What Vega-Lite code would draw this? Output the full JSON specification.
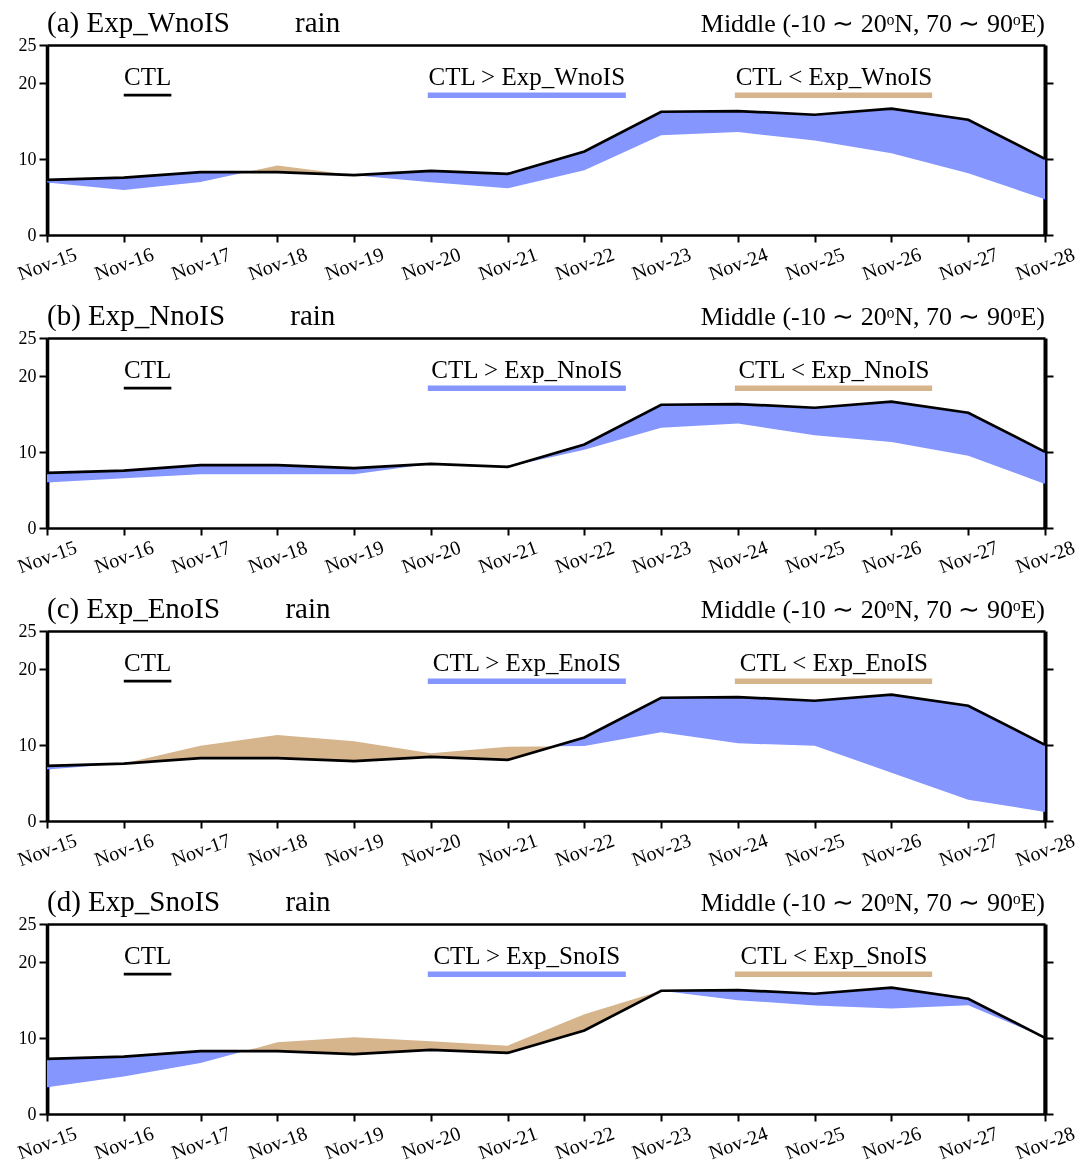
{
  "$schema": "https://vega.github.io/schema/vega-lite/v6.json",
  "padding": {"left": 14, "top": 8, "right": 6, "bottom": 0},
  "background": "white",
  "config": {
    "font": "Liberation Serif",
    "view": {"stroke": null},
    "axis": {"labelFont": "Liberation Serif", "labelFontSize": 19, "labelColor": "black", "domainColor": "black", "tickColor": "black", "grid": false, "title": null, "zindex": 2},
    "text": {"color": "black", "font": "Liberation Serif"}
  },
  "data": {"values": [
    {"panel": "a", "day": 15, "CTL": 7.25, "Exp": 6.9},
    {"panel": "a", "day": 16, "CTL": 7.56, "Exp": 5.93},
    {"panel": "a", "day": 17, "CTL": 8.26, "Exp": 6.99},
    {"panel": "a", "day": 18, "CTL": 8.26, "Exp": 9.14},
    {"panel": "a", "day": 19, "CTL": 7.87, "Exp": 7.87},
    {"panel": "a", "day": 20, "CTL": 8.44, "Exp": 6.95},
    {"panel": "a", "day": 21, "CTL": 8.04, "Exp": 6.15},
    {"panel": "a", "day": 22, "CTL": 10.99, "Exp": 8.53},
    {"panel": "a", "day": 23, "CTL": 16.22, "Exp": 13.14},
    {"panel": "a", "day": 24, "CTL": 16.31, "Exp": 13.54},
    {"panel": "a", "day": 25, "CTL": 15.82, "Exp": 12.44},
    {"panel": "a", "day": 26, "CTL": 16.62, "Exp": 10.77},
    {"panel": "a", "day": 27, "CTL": 15.16, "Exp": 8.13},
    {"panel": "a", "day": 28, "CTL": 10.02, "Exp": 4.7},
    {"panel": "b", "day": 15, "CTL": 7.25, "Exp": 6.0},
    {"panel": "b", "day": 16, "CTL": 7.56, "Exp": 6.54},
    {"panel": "b", "day": 17, "CTL": 8.26, "Exp": 7.07},
    {"panel": "b", "day": 18, "CTL": 8.26, "Exp": 7.07},
    {"panel": "b", "day": 19, "CTL": 7.87, "Exp": 7.07},
    {"panel": "b", "day": 20, "CTL": 8.44, "Exp": 8.44},
    {"panel": "b", "day": 21, "CTL": 8.04, "Exp": 8.04},
    {"panel": "b", "day": 22, "CTL": 10.99, "Exp": 10.3},
    {"panel": "b", "day": 23, "CTL": 16.22, "Exp": 13.18},
    {"panel": "b", "day": 24, "CTL": 16.31, "Exp": 13.75},
    {"panel": "b", "day": 25, "CTL": 15.82, "Exp": 12.2},
    {"panel": "b", "day": 26, "CTL": 16.62, "Exp": 11.32},
    {"panel": "b", "day": 27, "CTL": 15.16, "Exp": 9.5},
    {"panel": "b", "day": 28, "CTL": 10.02, "Exp": 5.8},
    {"panel": "c", "day": 15, "CTL": 7.25, "Exp": 6.76},
    {"panel": "c", "day": 16, "CTL": 7.56, "Exp": 7.56},
    {"panel": "c", "day": 17, "CTL": 8.26, "Exp": 9.91},
    {"panel": "c", "day": 18, "CTL": 8.26, "Exp": 11.33},
    {"panel": "c", "day": 19, "CTL": 7.87, "Exp": 10.49},
    {"panel": "c", "day": 20, "CTL": 8.44, "Exp": 8.93},
    {"panel": "c", "day": 21, "CTL": 8.04, "Exp": 9.78},
    {"panel": "c", "day": 22, "CTL": 10.99, "Exp": 9.87},
    {"panel": "c", "day": 23, "CTL": 16.22, "Exp": 11.69},
    {"panel": "c", "day": 24, "CTL": 16.31, "Exp": 10.22},
    {"panel": "c", "day": 25, "CTL": 15.82, "Exp": 9.91},
    {"panel": "c", "day": 26, "CTL": 16.62, "Exp": 6.36},
    {"panel": "c", "day": 27, "CTL": 15.16, "Exp": 2.8},
    {"panel": "c", "day": 28, "CTL": 10.02, "Exp": 1.2},
    {"panel": "d", "day": 15, "CTL": 7.25, "Exp": 3.52},
    {"panel": "d", "day": 16, "CTL": 7.56, "Exp": 4.93},
    {"panel": "d", "day": 17, "CTL": 8.26, "Exp": 6.7},
    {"panel": "d", "day": 18, "CTL": 8.26, "Exp": 9.43},
    {"panel": "d", "day": 19, "CTL": 7.87, "Exp": 10.09},
    {"panel": "d", "day": 20, "CTL": 8.44, "Exp": 9.56},
    {"panel": "d", "day": 21, "CTL": 8.04, "Exp": 8.99},
    {"panel": "d", "day": 22, "CTL": 10.99, "Exp": 13.13},
    {"panel": "d", "day": 23, "CTL": 16.22, "Exp": 16.22},
    {"panel": "d", "day": 24, "CTL": 16.31, "Exp": 14.98},
    {"panel": "d", "day": 25, "CTL": 15.82, "Exp": 14.27},
    {"panel": "d", "day": 26, "CTL": 16.62, "Exp": 13.88},
    {"panel": "d", "day": 27, "CTL": 15.16, "Exp": 14.32},
    {"panel": "d", "day": 28, "CTL": 10.02, "Exp": 10.02},
    {"panel": "a", "title": "(a) Exp_WnoIS\u00a0\u00a0\u00a0\u00a0\u00a0\u00a0\u00a0\u00a0\u00a0rain", "gt": "CTL > Exp_WnoIS", "lt": "CTL < Exp_WnoIS"},
    {"panel": "b", "title": "(b) Exp_NnoIS\u00a0\u00a0\u00a0\u00a0\u00a0\u00a0\u00a0\u00a0\u00a0rain", "gt": "CTL > Exp_NnoIS", "lt": "CTL < Exp_NnoIS"},
    {"panel": "c", "title": "(c) Exp_EnoIS\u00a0\u00a0\u00a0\u00a0\u00a0\u00a0\u00a0\u00a0\u00a0rain", "gt": "CTL > Exp_EnoIS", "lt": "CTL < Exp_EnoIS"},
    {"panel": "d", "title": "(d) Exp_SnoIS\u00a0\u00a0\u00a0\u00a0\u00a0\u00a0\u00a0\u00a0\u00a0rain", "gt": "CTL > Exp_SnoIS", "lt": "CTL < Exp_SnoIS"}
  ]},
  "facet": {"row": {"field": "panel", "type": "nominal", "header": {"title": null, "labels": false}}},
  "spacing": {"row": 103},
  "bounds": "flush",
  "resolve": {"axis": {"x": "independent"}},
  "spec": {
    "width": 998,
    "height": 190,
    "resolve": {"axis": {"y": "independent", "x": "independent"}},
    "layer": [
      {
        "transform": [{"filter": "isValid(datum.day)"}],
        "mark": {"type": "area", "color": "#D6B48C"},
        "encoding": {
          "x": {"field": "day", "type": "quantitative", "scale": {"domain": [15, 28], "nice": false, "zero": false},
            "axis": {"orient": "bottom", "zindex": 2, "values": [15,16,17,18,19,20,21,22,23,24,25,26,27,28], "labelExpr": "'Nov-' + datum.value", "labelAngle": -20, "labelAlign": "center", "labelBaseline": "middle", "labelPadding": 22, "tickSize": 7, "tickWidth": 2, "domainWidth": 2.5, "labelFlush": false, "labelOverlap": false, "labelFontSize": 20, "title": null}},
          "y": {"field": "CTL", "type": "quantitative", "scale": {"domain": [0, 25], "nice": false},
            "axis": {"orient": "left", "zindex": 2, "values": [0, 10, 20, 25], "tickSize": 8, "tickWidth": 2, "domainWidth": 3.5, "labelPadding": 3, "labelFontSize": 18, "title": null}},
          "y2": {"field": "Exp"}
        }
      },
      {
        "transform": [{"filter": "isValid(datum.day)"}],
        "mark": {"type": "area", "color": "#0000FF", "blend": "color-dodge"},
        "encoding": {
          "x": {"field": "day", "type": "quantitative", "axis": null},
          "y": {"field": "CTL", "type": "quantitative", "axis": null}
        }
      },
      {
        "transform": [{"filter": "isValid(datum.day)"}],
        "mark": {"type": "area", "color": "#56B6FF", "blend": "color-burn"},
        "encoding": {
          "x": {"field": "day", "type": "quantitative", "axis": null},
          "y": {"field": "CTL", "type": "quantitative", "axis": null}
        }
      },
      {
        "transform": [{"filter": "isValid(datum.day)"}],
        "mark": {"type": "line", "color": "black", "strokeWidth": 2.7},
        "encoding": {
          "x": {"field": "day", "type": "quantitative",
            "axis": {"orient": "top", "zindex": 2, "labels": false, "ticks": false, "domainWidth": 2.5, "title": null}},
          "y": {"field": "CTL", "type": "quantitative",
            "axis": {"orient": "right", "zindex": 2, "values": [0, 10, 20], "labels": false, "tickSize": 8, "tickWidth": 2, "domainWidth": 4, "title": null}}
        }
      },
      {
        "transform": [{"filter": "isValid(datum.title)"}],
        "mark": {"type": "text", "align": "left", "baseline": "alphabetic", "fontSize": 29},
        "encoding": {
          "x": {"datum": 15, "type": "quantitative", "axis": null},
          "y": {"datum": 26.75, "type": "quantitative", "axis": null},
          "text": {"field": "title"}
        }
      },
      {
        "transform": [{"filter": "isValid(datum.title)"}],
        "mark": {"type": "text", "align": "right", "baseline": "alphabetic", "fontSize": 26, "text": "Middle (-10 \u223c 20\u1d52N, 70 \u223c 90\u1d52E)"},
        "encoding": {
          "x": {"datum": 28, "type": "quantitative", "axis": null},
          "y": {"datum": 26.75, "type": "quantitative", "axis": null}
        }
      },
      {
        "transform": [{"filter": "isValid(datum.title)"}],
        "mark": {"type": "text", "align": "center", "baseline": "alphabetic", "fontSize": 25, "text": "CTL"},
        "encoding": {
          "x": {"datum": 16.31, "type": "quantitative", "axis": null},
          "y": {"datum": 19.7, "type": "quantitative", "axis": null}
        }
      },
      {
        "transform": [{"filter": "isValid(datum.title)"}],
        "mark": {"type": "text", "align": "center", "baseline": "alphabetic", "fontSize": 25},
        "encoding": {
          "x": {"datum": 21.25, "type": "quantitative", "axis": null},
          "y": {"datum": 19.7, "type": "quantitative", "axis": null},
          "text": {"field": "gt"}
        }
      },
      {
        "transform": [{"filter": "isValid(datum.title)"}],
        "mark": {"type": "text", "align": "center", "baseline": "alphabetic", "fontSize": 25},
        "encoding": {
          "x": {"datum": 25.25, "type": "quantitative", "axis": null},
          "y": {"datum": 19.7, "type": "quantitative", "axis": null},
          "text": {"field": "lt"}
        }
      },
      {
        "transform": [{"filter": "isValid(datum.title)"}],
        "mark": {"type": "rule", "color": "black", "strokeWidth": 2.7},
        "encoding": {
          "x": {"datum": 16.0, "type": "quantitative", "axis": null},
          "x2": {"datum": 16.62},
          "y": {"datum": 18.4, "type": "quantitative", "axis": null}
        }
      },
      {
        "transform": [{"filter": "isValid(datum.title)"}],
        "mark": {"type": "rule", "color": "#8596FF", "strokeWidth": 5.5},
        "encoding": {
          "x": {"datum": 19.96, "type": "quantitative", "axis": null},
          "x2": {"datum": 22.54},
          "y": {"datum": 18.4, "type": "quantitative", "axis": null}
        }
      },
      {
        "transform": [{"filter": "isValid(datum.title)"}],
        "mark": {"type": "rule", "color": "#D6B48C", "strokeWidth": 5.5},
        "encoding": {
          "x": {"datum": 23.96, "type": "quantitative", "axis": null},
          "x2": {"datum": 26.53},
          "y": {"datum": 18.4, "type": "quantitative", "axis": null}
        }
      }
    ]
  }
}
